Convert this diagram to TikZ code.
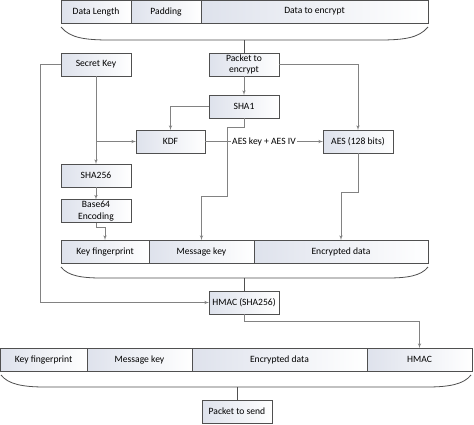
\documentclass[tikz,border=0pt]{standalone}
\usepackage{fontspec}
\setmainfont{Carlito}
\usetikzlibrary{shapes,arrows,positioning}
\definecolor{boxedge}{RGB}{80,80,80}
\definecolor{boxfill}{RGB}{222,226,236}
\definecolor{wire}{RGB}{130,130,130}
\tikzstyle{block} = [rectangle, draw=boxedge, line width=0.8pt, left color=boxfill, right color=white,
    text centered, align=center, minimum height=23pt, minimum width=70pt, inner sep=1pt, outer sep=0pt,
    font=\fontsize{9.6}{11.3}\selectfont]
\tikzstyle{line} = [draw, wire, line width=0.6pt, -latex']
\tikzstyle{stem} = [draw, boxedge, line width=0.7pt]
\tikzstyle{brace} = [draw, boxedge, line width=0.8pt]

\begin{document}
\begin{tikzpicture}[x=1pt, y=-1pt]
		\useasboundingbox (0,0) rectangle (474,424);
		% packet before encryption
		\node [block, anchor=west] (dlen) at (61,11.5) {Data Length};
		\node [block, right=0pt of dlen] (pad) {Padding};
		\node [block, minimum width=227pt, right=0pt of pad] (data) {Data to encrypt};
		\path [brace] (61,27) .. controls (70,38) and (85,40) .. (110,40) -- (379,40) .. controls (404,40) and (419,38) .. (428,27);
		\coordinate (brace1) at (244,40);
		
		\node [block] (secret) at (96,64.5) {Secret Key};
		\node [block] (packet) at (244,64.5) {Packet to\\encrypt};
		\node [block] (sha1) at (244,106.5) {SHA1};
		\node [block, minimum width=69pt] (kdf) at (170.5,141.5) {KDF};
		\node [block] (aes) at (358,141.5) {AES (128 bits)};
		\node [block] (sha256) at (96,175.5) {SHA256};
		\node [block] (base64) at (96,211) {Base64\\Encoding};
		
		% encrypted packet
		\node [block, minimum width=88pt, anchor=west] (kfp) at (61,251.5) {Key fingerprint};
		\node [block, minimum width=105pt, right=0pt of kfp] (mkey) {Message key};
		\node [block, minimum width=174pt, right=0pt of mkey] (edata) {Encrypted data};
		\path [brace] (61,267) .. controls (68,276) and (82,278) .. (102,278) -- (387,278) .. controls (407,278) and (421,276) .. (428,267);
		\coordinate (brace2) at (244,278);
		
		\node [block] (hmac) at (244,302.5) {HMAC (SHA256)};
		
		% packet to send
		\node [block, minimum width=87pt, anchor=west] (kfp3) at (0,359.5) {Key fingerprint};
		\node [block, minimum width=105pt, right=0pt of kfp3] (mkey3) {Message key};
		\node [block, minimum width=175pt, right=0pt of mkey3] (edata3) {Encrypted data};
		\node [block, minimum width=105pt, right=0pt of edata3] (hmac3) {HMAC};
		\path [brace] (1,375) .. controls (8,384) and (22,387) .. (45,387) -- (427,387) .. controls (450,387) and (464,384) .. (471,375);
		\coordinate (brace3) at (237,387);
		
		\node [block] (send) at (237,411.5) {Packet to send};
		
		\path [stem] (brace1) -- (packet);
		\path [stem] (brace2) -- (hmac);
		\path [stem] (brace3) -- (send);
		
		\path [line] (packet) -- (sha1);
		\path [line] (packet.east) -| (aes.north);
		\path [line] (sha1.west) -| (kdf.north);
		\path [line] (sha1.south) -- ++(0,9) -| ++(-17,69) -| (mkey.north);
		\path [line] (secret) -- (sha256);
		\path [line] (secret.south |- kdf.west) -- (kdf.west);
		\path [line] (sha256) -- (base64);
		\path [line] (base64.south) -- ++(0,5) -| (kfp.north);
		\path [line] (kdf) -- node [fill=white, inner sep=1pt, font=\fontsize{9.6}{11.3}\selectfont, text=black] {AES key + AES IV} (aes);
		\path [line] (aes.south) -- ++(0,39) -| (edata.north);
		\path [line] (secret.west) -- ++(-21,0) |- (hmac.west);
		\path [line] (hmac.south) -- ++(0,7) -| (hmac3.north);
	\end{tikzpicture}
\end{document}
